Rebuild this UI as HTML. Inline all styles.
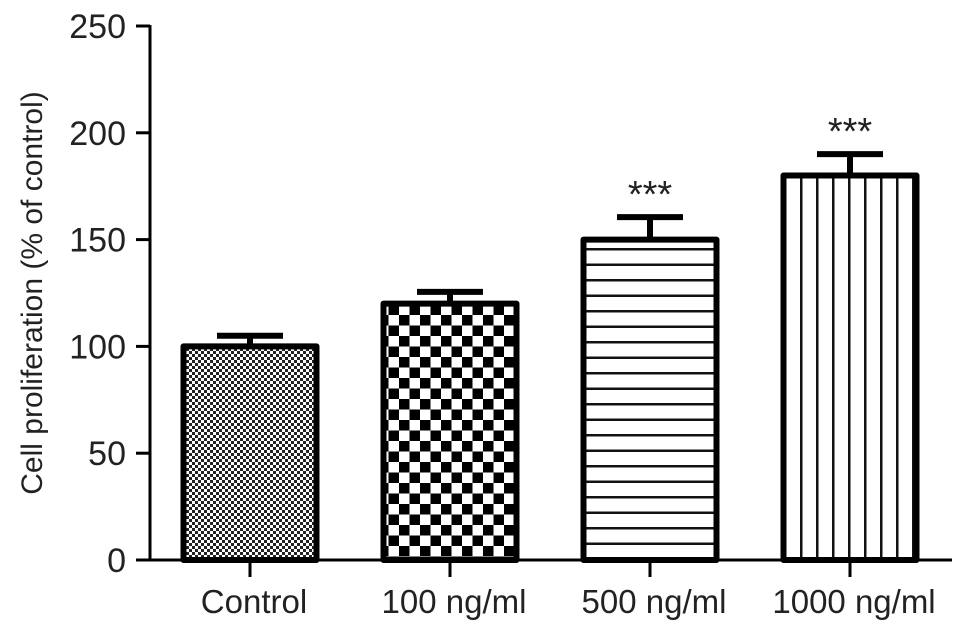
<!DOCTYPE html>
<html><head><meta charset="utf-8"><style>body{margin:0;background:#fff}svg{display:block;font-family:"Liberation Sans",Arial,sans-serif}</style></head>
<body>
<svg id="chart" width="969" height="633" viewBox="0 0 969 633">
<defs>
<pattern id="p0" width="6" height="6" patternUnits="userSpaceOnUse"><rect width="6" height="6" fill="#fff"/><rect x="0" y="0" width="3" height="3" fill="#222"/><rect x="3" y="3" width="3" height="3" fill="#222"/></pattern>
<pattern id="p1" width="21" height="21" patternUnits="userSpaceOnUse"><rect width="21" height="21" fill="#fff"/><rect x="0" y="0" width="10.5" height="10.5" fill="#000"/><rect x="10.5" y="10.5" width="10.5" height="10.5" fill="#000"/></pattern>
<pattern id="p2" width="10" height="15.5" patternUnits="userSpaceOnUse"><rect width="10" height="15.5" fill="#fff"/><rect y="0" width="10" height="2.5" fill="#111"/></pattern>
<pattern id="p3" width="16" height="10" patternUnits="userSpaceOnUse"><rect width="16" height="10" fill="#fff"/><rect x="0" width="2.5" height="10" fill="#111"/></pattern>
</defs>
<g id="plot"></g>
<text transform="translate(42,293) rotate(-90)" text-anchor="middle" font-size="30" fill="#222">Cell proliferation (% of control)</text>
</svg>
<script>
const categories=["Control","100 ng/ml","500 ng/ml","1000 ng/ml"];
const values=[100,120,150,180];
const errors=[5,5.5,10.5,10];
const sig=["","","***","***"];
const yTicks=[0,50,100,150,200,250];
const ns="http://www.w3.org/2000/svg";
const g=document.getElementById('plot');
const y0=560,yTop=26,yMax=250;
function y(v){return y0-(v/yMax)*(y0-yTop);}
function x(i){return 250+i*200;}
const bw=133;
function mk(t,a,parent){const e=document.createElementNS(ns,t);for(const k in a)e.setAttribute(k,a[k]);(parent||g).appendChild(e);return e;}
categories.forEach((c,i)=>{
  const cx=x(i),top=y(values[i]),et=y(values[i]+errors[i]);
  const err=mk('path',{d:`M${cx} ${top} V${et} M${cx-33} ${et} H${cx+33}`,stroke:'#000','stroke-width':6,fill:'none'});
  
  
  const r=mk('rect',{x:cx-bw/2,y:top,width:bw,height:y0-top,fill:`url(#p${i})`,stroke:'#000','stroke-width':6,'stroke-linejoin':'round'});
  
  
  const tk=mk('line',{x1:cx,x2:cx,y1:y0,y2:577,stroke:'#000','stroke-width':3});
  
  
  const t=mk('text',{x:cx+4,y:613,'text-anchor':'middle','font-size':33,fill:'#222'});t.textContent=c;
  
  
  if(sig[i]){const s=mk('text',{x:cx,y:et-10,'text-anchor':'middle','font-size':38,fill:'#222'});s.textContent=sig[i];
  
  }
});
yTicks.forEach(v=>{
  const l=mk('line',{x1:136,x2:150,y1:y(v),y2:y(v),stroke:'#000','stroke-width':3});
  
  
  const t=mk('text',{x:126,y:y(v)+12,'text-anchor':'end','font-size':34,fill:'#222'});t.textContent=v;
  
  
});
const ya=mk('line',{x1:150,x2:150,y1:y(yMax)-1,y2:y0+1.5,stroke:'#000','stroke-width':3});


const xa=mk('line',{x1:136,x2:952,y1:y0,y2:y0,stroke:'#000','stroke-width':3});


</script>
</body></html>
